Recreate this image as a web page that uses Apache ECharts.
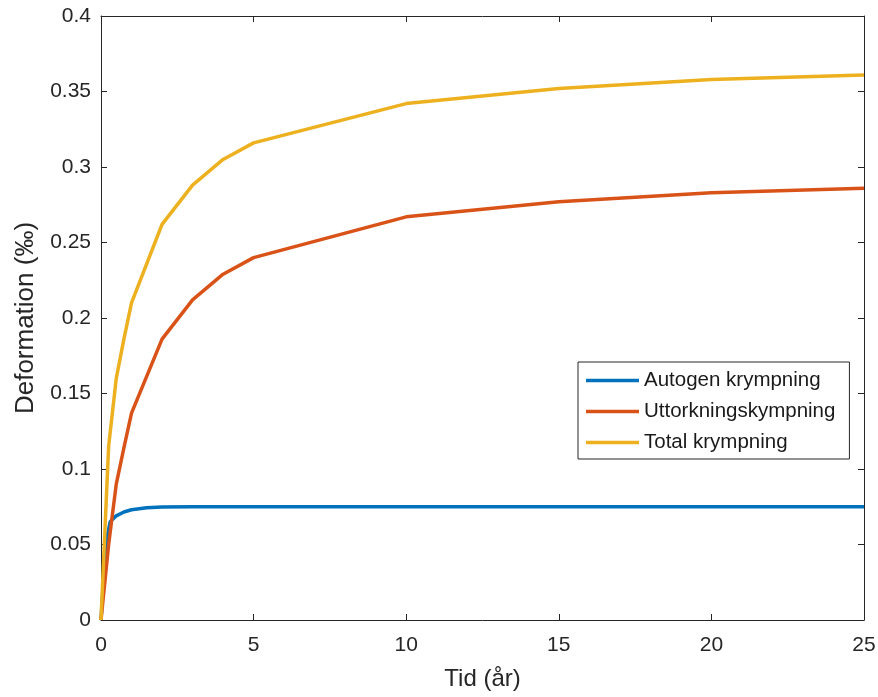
<!DOCTYPE html>
<html>
<head>
<meta charset="utf-8">
<script src="https://cdn.jsdelivr.net/npm/echarts@6/dist/echarts.min.js"></script>
<style>
html,body{margin:0;padding:0;background:#fff;}
#chart{width:878px;height:697px;}
</style>
</head>
<body>
<div id="chart"></div>
<script>
// Time (years) sampling for the autogenous curve
const tidAutogen = [0, 0.1, 0.2, 0.3, 0.5, 0.75, 1, 1.5, 2, 3, 5, 10, 15, 20, 25];
const autogen    = [0, 0.032, 0.055, 0.065, 0.069, 0.0715, 0.073, 0.0743, 0.0749, 0.075, 0.075, 0.075, 0.075, 0.075, 0.075];

// Time (years) sampling for drying and total shrinkage
const tid        = [0, 0.25, 0.5, 0.75, 1, 2, 3, 4, 5, 10, 15, 20, 25];
const uttorkning = [0, 0.05, 0.09, 0.114, 0.137, 0.186, 0.212, 0.229, 0.240, 0.267, 0.277, 0.283, 0.286];
const total      = [0, 0.115, 0.16, 0.186, 0.21, 0.262, 0.288, 0.305, 0.316, 0.342, 0.352, 0.358, 0.361];

const seriesNames = ['Autogen krympning', 'Uttorkningskympning', 'Total krympning'];
const seriesColors = ['#0072BD', '#D95319', '#EDB120'];

const xRange = {min: 0, max: 25, interval: 5};
const yRange = {min: 0, max: 0.4, interval: 0.05};

const pairs = (xs, ys) => xs.map((x, i) => [x, ys[i]]);

const axisColor = '#262626';
const font = '"Liberation Sans", Arial, Helvetica, sans-serif';

const chart = echarts.init(document.getElementById('chart'), null, {renderer: 'canvas'});

const hiddenAxisCommon = {
  axisLine: {show: true, onZero: false, lineStyle: {color: axisColor, width: 1}},
  axisTick: {show: true, inside: true, length: 6, lineStyle: {color: axisColor}},
  axisLabel: {show: false},
  splitLine: {show: false}
};

chart.setOption({
  animation: false,
  backgroundColor: '#fff',
  color: seriesColors,
  grid: {left: 101, right: 14, top: 16, bottom: 77, containLabel: false, outerBoundsMode: 'none'},
  xAxis: [
    {
      type: 'value', position: 'bottom',
      min: xRange.min, max: xRange.max, interval: xRange.interval,
      name: 'Tid (år)', nameLocation: 'middle', nameGap: 47,
      nameTextStyle: {fontFamily: font, fontSize: 24, color: axisColor},
      axisLine: {show: true, onZero: false, lineStyle: {color: axisColor, width: 1}},
      axisTick: {show: true, inside: true, length: 6, lineStyle: {color: axisColor}},
      axisLabel: {fontFamily: font, fontSize: 21, color: axisColor, margin: 15},
      splitLine: {show: false}
    },
    Object.assign({
      type: 'value', position: 'top',
      min: xRange.min, max: xRange.max, interval: xRange.interval
    }, hiddenAxisCommon)
  ],
  yAxis: [
    {
      type: 'value', position: 'left',
      min: yRange.min, max: yRange.max, interval: yRange.interval,
      name: 'Deformation (‰)', nameLocation: 'middle', nameGap: 62, nameRotate: 90,
      nameTextStyle: {fontFamily: font, fontSize: 26, color: axisColor},
      axisLine: {show: true, onZero: false, lineStyle: {color: axisColor, width: 1}},
      axisTick: {show: true, inside: true, length: 6, lineStyle: {color: axisColor}},
      axisLabel: {fontFamily: font, fontSize: 21, color: axisColor, margin: 10},
      splitLine: {show: false}
    },
    Object.assign({
      type: 'value', position: 'right',
      min: yRange.min, max: yRange.max, interval: yRange.interval
    }, hiddenAxisCommon)
  ],
  legend: {
    orient: 'vertical',
    left: 578, top: 362,
    data: seriesNames,
    icon: 'rect',
    itemWidth: 53, itemHeight: 3.5,
    itemGap: 10,
    padding: [8, 14, 6, 8],
    borderColor: '#262626', borderWidth: 1,
    backgroundColor: '#fff',
    textStyle: {fontFamily: font, fontSize: 20.5, color: '#1a1a1a', lineHeight: 20}
  },
  series: [
    {name: seriesNames[0], type: 'line', data: pairs(tidAutogen, autogen), showSymbol: false, symbol: 'none',
     lineStyle: {width: 3.5, color: seriesColors[0]}, itemStyle: {color: seriesColors[0]}},
    {name: seriesNames[1], type: 'line', data: pairs(tid, uttorkning), showSymbol: false, symbol: 'none',
     lineStyle: {width: 3.5, color: seriesColors[1]}, itemStyle: {color: seriesColors[1]}},
    {name: seriesNames[2], type: 'line', data: pairs(tid, total), showSymbol: false, symbol: 'none',
     lineStyle: {width: 3.5, color: seriesColors[2]}, itemStyle: {color: seriesColors[2]}}
  ]
});
</script>
</body>
</html>
